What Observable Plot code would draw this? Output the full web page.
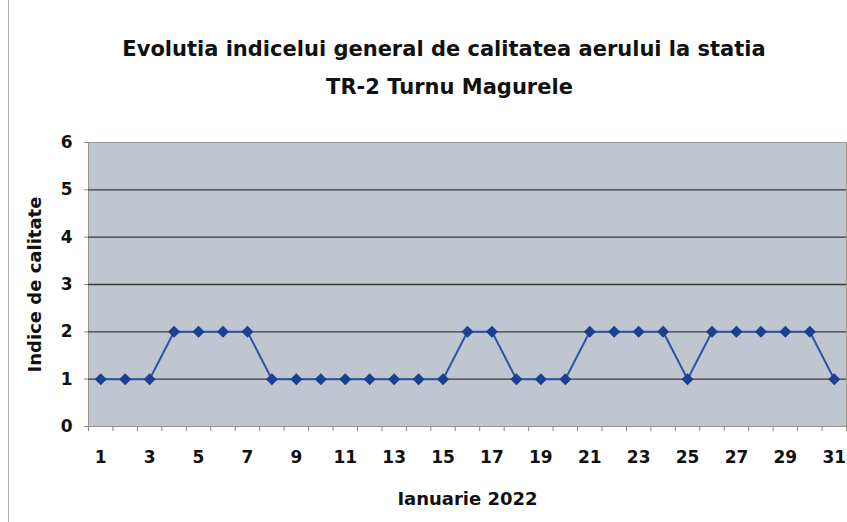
<!DOCTYPE html>
<html><head><meta charset="utf-8">
<script src="https://cdn.jsdelivr.net/npm/d3@7"></script>
<script src="https://cdn.jsdelivr.net/npm/@observablehq/plot@0.6"></script>
<style>
body{margin:0;background:#fff;}
#wrap{position:relative;width:847px;height:522px;overflow:hidden;font-family:"DejaVu Sans",sans-serif;}
#chart{position:absolute;left:0;top:0;}
.t{position:absolute;left:0;text-align:center;font-weight:bold;font-size:21px;line-height:21px;color:#111;white-space:nowrap;}
#border{position:absolute;left:8px;top:0;height:522px;border-left:1px solid #b0b0b0;}
g[aria-label="y-axis label"] text, g[aria-label="x-axis label"] text{font-size:18px;}
</style></head><body>
<div id="wrap">
<div id="border"></div>
<div id="chart"></div>
<div class="t" style="top:39px;width:888px">Evolutia indicelui general de calitatea aerului la statia</div>
<div class="t" style="top:77px;width:899px">TR-2 Turnu Magurele</div>
</div>
<script>
const days = [1,2,3,4,5,6,7,8,9,10,11,12,13,14,15,16,17,18,19,20,21,22,23,24,25,26,27,28,29,30,31];
const values = [1,1,1,2,2,2,2,1,1,1,1,1,1,1,1,2,2,1,1,1,2,2,2,2,1,2,2,2,2,2,1];
const xTickLabels = [1,3,5,7,9,11,13,15,17,19,21,23,25,27,29,31];
const yTicks = [0,1,2,3,4,5,6];
const xLabel = "Ianuarie 2022";
const yLabel = "Indice de calitate";

const rows = days.map((d,i)=>({day:d, value:values[i]}));
const boundaries = [days[0]-0.5, ...days.map(d=>d+0.5)];
const gridLevels = yTicks.filter(v=>v>yTicks[0] && v<yTicks[yTicks.length-1]);

const chart = Plot.plot({
  width:847, height:522,
  marginTop:142, marginBottom:96, marginLeft:88, marginRight:1,
  style:{fontFamily:"DejaVu Sans", fontWeight:"bold", fontSize:"16px", color:"#111", background:"transparent", overflow:"visible"},
  x:{domain:[days[0]-0.5, days[days.length-1]+0.5]},
  y:{domain:[yTicks[0], yTicks[yTicks.length-1]]},
  marks:[
    Plot.frame({fill:"#bfc6d0", stroke:"#9c958c"}),
    Plot.ruleY(gridLevels,{stroke:"#3c3935", strokeWidth:1.3}),
    Plot.axisY({ticks:yTicks, tickFormat:d3.format("d"), tickSize:4, tickPadding:12, label:yLabel, labelAnchor:"center", labelArrow:"none", labelOffset:60, fontSize:17, stroke:"#888"}),
    Plot.axisX({ticks:boundaries, tickSize:5, tickFormat:()=>"", label:null, stroke:"#888"}),
    Plot.axisX({ticks:xTickLabels, tickFormat:d3.format("d"), tickSize:0, tickPadding:24, label:xLabel, labelAnchor:"center", labelArrow:"none", labelOffset:78, fontSize:17}),
    Plot.line(rows,{x:"day", y:"value", stroke:"#2b56a6", strokeWidth:2}),
    Plot.dot(rows,{x:"day", y:"value", symbol:"square", rotate:45, r:4.8, fill:"#1b3f93"})
  ]
});
document.getElementById("chart").appendChild(chart);
</script>
</body></html>
